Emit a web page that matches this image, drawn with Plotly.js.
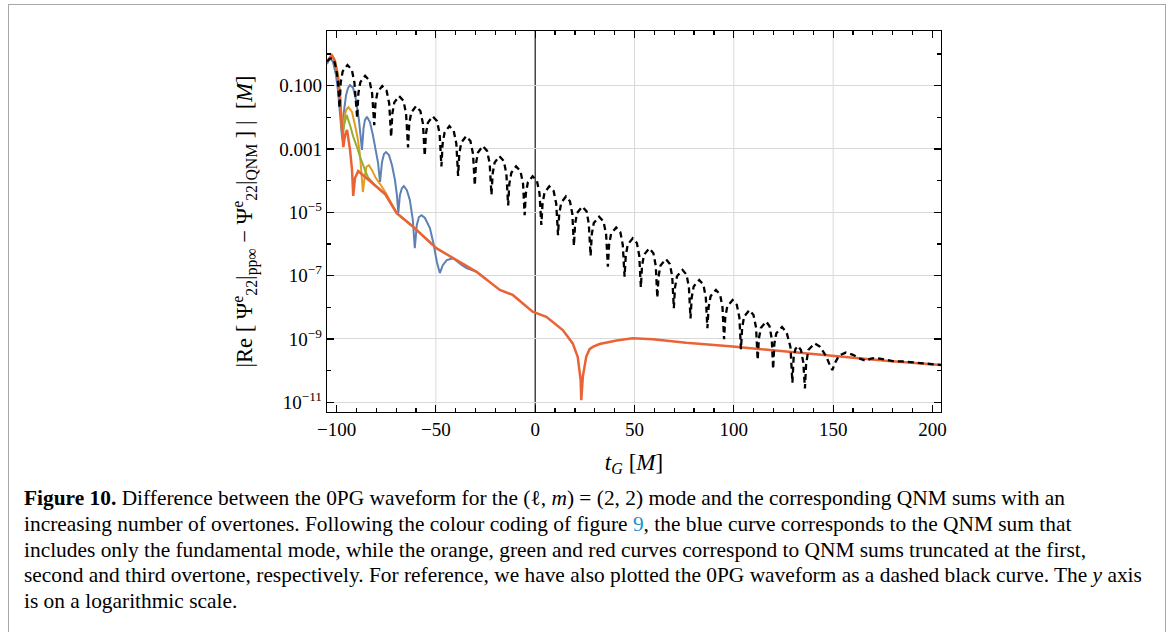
<!DOCTYPE html>
<html>
<head>
<meta charset="utf-8">
<script src="https://cdn.plot.ly/plotly-3.0.1.min.js"></script>
<style>
  html, body { margin: 0; padding: 0; background: #ffffff; }
  #fig { position: absolute; left: 0; top: 0; width: 1168px; height: 632px; }
  #box { position: absolute; left: 8px; top: 4px; width: 1156px; height: 640px;
         border: 1px solid #a8a8a8; pointer-events: none; }
</style>
</head>
<body>
<div id="fig"></div>
<div id="box"></div>
<script>
// Time axis t_G in units of M; amplitudes stored as log10 of |Re(...)| in units of M.

// 0PG waveform (dashed black)
const blackT = [
  -104.8,-103.6,-102.4,-101.2,-100.2,-99.3,-98.5,
  -97.9,-96.9,-94.5,-92.3,-91.0,-89.6,
  -89.0,-88.0,-85.6,-83.4,-82.1,-81.0,
  -80.4,-79.4,-77.0,-74.8,-73.5,-72.5,
  -71.9,-70.9,-68.5,-66.3,-65.0,-64.0,
  -63.4,-62.4,-60.0,-57.8,-56.5,-55.6,
  -55.0,-54.0,-51.6,-49.4,-48.1,-47.2,
  -46.6,-45.6,-43.2,-41.0,-39.7,-38.8,
  -38.2,-37.2,-34.8,-32.6,-31.3,-30.4,
  -29.8,-28.8,-26.4,-24.2,-22.9,-22.0,
  -21.4,-20.4,-18.0,-15.8,-14.5,-13.6,
  -13.0,-12.0,-9.6,-7.4,-6.1,-5.3,
  -4.7,-3.7,-1.3,0.9,2.2,3.1,
  3.7,4.7,7.1,9.3,10.6,11.5,
  12.1,13.1,15.5,17.5,18.7,19.5,
  20.1,21.1,23.7,25.9,27.0,27.9,
  28.5,29.5,32.2,34.4,35.7,36.6,
  37.2,38.2,40.8,42.9,44.1,45.0,
  45.6,46.6,49.1,51.2,52.4,53.2,
  53.8,54.8,57.4,59.5,60.7,61.5,
  62.1,63.1,65.8,67.8,69.0,69.8,
  70.4,71.4,74.2,76.2,77.4,78.2,
  78.8,79.8,82.6,84.7,85.9,86.7,
  87.3,88.3,91.0,93.1,94.3,95.1,
  95.7,96.7,99.4,101.5,102.8,103.6,
  104.2,105.2,107.8,109.9,111.2,112.0,
  112.6,113.6,116.3,118.0,119.1,119.8,
  120.4,121.4,124.3,126.6,128.5,129.5,
  130.1,131.0,132.3,133.8,135.0,135.8,
  136.4,137.5,140.7,143.5,146.5,148.5,149.6,
  151.0,153.0,156.4,160.0,163.5,166.4,169.0,171.5,175.0,180.0,185.0,190.0,197.0,204.3
];
const blackLog = [
  -0.24,-0.16,-0.13,-0.22,-0.45,-0.85,-1.71,
  -0.90,-0.55,-0.35,-0.50,-0.90,-2.03,
  -1.24,-0.89,-0.69,-0.84,-1.24,-2.25,
  -1.56,-1.21,-1.01,-1.16,-1.56,-2.62,
  -1.88,-1.53,-1.33,-1.48,-1.88,-2.95,
  -2.20,-1.85,-1.65,-1.80,-2.20,-3.22,
  -2.52,-2.17,-1.97,-2.12,-2.52,-3.55,
  -2.83,-2.48,-2.28,-2.43,-2.83,-3.85,
  -3.15,-2.80,-2.60,-2.75,-3.15,-4.15,
  -3.46,-3.11,-2.91,-3.06,-3.46,-4.45,
  -3.78,-3.43,-3.23,-3.38,-3.78,-4.78,
  -4.10,-3.75,-3.55,-3.70,-4.10,-5.09,
  -4.41,-4.06,-3.86,-4.01,-4.41,-5.40,
  -4.73,-4.38,-4.18,-4.33,-4.73,-5.72,
  -5.05,-4.70,-4.50,-4.65,-5.05,-6.06,
  -5.37,-5.02,-4.82,-4.97,-5.37,-6.38,
  -5.69,-5.34,-5.14,-5.29,-5.69,-6.72,
  -6.03,-5.68,-5.48,-5.63,-6.03,-7.03,
  -6.37,-6.02,-5.82,-5.97,-6.37,-7.37,
  -6.69,-6.34,-6.14,-6.29,-6.69,-7.70,
  -7.03,-6.68,-6.48,-6.63,-7.03,-8.03,
  -7.37,-7.02,-6.82,-6.97,-7.37,-8.35,
  -7.69,-7.34,-7.14,-7.29,-7.69,-8.66,
  -8.00,-7.65,-7.45,-7.60,-8.00,-9.01,
  -8.32,-7.97,-7.77,-7.92,-8.32,-9.32,
  -8.64,-8.29,-8.09,-8.24,-8.64,-9.66,
  -9.00,-8.65,-8.45,-8.60,-9.00,-9.95,
  -9.15,-8.82,-8.62,-8.80,-9.25,-10.38,
  -9.60,-9.32,-9.22,-9.35,-9.75,-10.56,
  -9.80,-9.35,-9.14,-9.25,-9.55,-9.85,-9.98,
  -9.75,-9.52,-9.43,-9.50,-9.62,-9.69,-9.62,-9.60,-9.64,-9.70,-9.71,-9.74,-9.78,-9.82
];

// QNM sum with the fundamental mode only (blue)
const blueT = [
  -104.8,-103.3,-101.8,-100.3,-99.2,-98.2,-97.2,-96.2,-95.2,-94.2,
  -93.2,-91.7,-90.2,-88.7,-87.7,-87.2,-86.4,-85.7,-84.7,-83.2,
  -81.7,-80.2,-79.1,-78.1,-77.1,-76.1,-75.1,-73.6,-72.1,-70.6,
  -69.6,-68.9,-68.1,-67.1,-66.1,-64.6,-63.1,-61.6,-60.6,-59.6,
  -58.5,-57.2,-55.5,-53.0,-51.0,-49.5,-48.0,-46.5,-44.5,-41.3,
  -39.0,-37.0,-34.6,-29.5,-24.0
];
const blueLog = [
  -0.32,-0.13,-0.25,-0.66,-1.20,-1.93,-2.66,-1.77,-1.30,-1.07,
  -0.98,-1.07,-1.45,-2.09,-2.62,-3.03,-2.34,-2.09,-1.98,-2.15,
  -2.56,-3.03,-3.44,-4.04,-3.41,-3.16,-3.10,-3.19,-3.51,-3.98,
  -4.46,-5.02,-4.46,-4.24,-4.17,-4.30,-4.61,-5.24,-6.13,-5.40,
  -5.15,-5.09,-5.18,-5.50,-6.04,-6.57,-6.92,-6.67,-6.51,-6.45,
  -6.57,-6.66,-6.76,-6.88,-7.15
];

// QNM sum truncated at the first overtone (orange)
const orangeT = [
  -104.8,-102.4,-100.8,-99.2,-98.2,-97.5,-97.0,-96.2,-95.2,-94.0,
  -92.2,-90.7,-89.2,-88.2,-86.7,-85.7,-85.0,-83.7,-82.2,-80.2,
  -78.1,-75.1,-71.6,-69.7,-61.6,-49.6
];
const orangeLog = [
  -0.25,-0.03,-0.19,-0.66,-1.29,-2.09,-2.72,-2.09,-1.77,-1.68,
  -1.83,-2.25,-2.72,-3.19,-4.36,-3.82,-3.57,-3.51,-3.66,-3.92,
  -4.10,-4.40,-4.78,-5.02,-5.45,-6.14
];

// QNM sum truncated at the second overtone (green)
const greenT = [
  -104.8,-102.4,-100.8,-99.2,-98.2,-97.4,-96.9,-96.2,-95.5,-94.9,
  -93.2,-91.6,-89.7,-88.2,-85.7,-84.2,-80.7,-78.0,-75.6,-69.7,
  -61.6
];
const greenLog = [
  -0.25,-0.04,-0.22,-0.72,-1.35,-2.05,-2.62,-2.25,-2.02,-1.93,
  -2.25,-2.61,-2.94,-3.24,-3.66,-3.89,-4.14,-4.28,-4.42,-5.03,
  -5.45
];

// QNM sum truncated at the third overtone (red)
const redT = [
  -104.8,-102.4,-100.8,-99.2,-98.2,-97.2,-96.6,-95.7,-94.7,-93.2,
  -92.2,-91.6,-90.7,-89.1,-86.2,-83.2,-79.6,-75.6,-69.7,-61.6,
  -49.6,-39.6,-29.5,-17.8,-11.3,-1.3,5.6,13.9,18.9,21.4,
  22.9,23.2,24.0,25.7,27.4,29.0,32.4,41.0,49.1,59.2,
  76.0,99.4,126.2,149.6,176.5,204.3
];
const redLog = [
  -0.25,-0.03,-0.25,-0.82,-1.45,-2.24,-2.94,-2.56,-2.40,-3.03,
  -3.66,-4.48,-3.92,-3.70,-3.85,-4.01,-4.20,-4.42,-5.03,-5.45,
  -6.14,-6.51,-6.88,-7.45,-7.61,-8.14,-8.30,-8.72,-9.14,-9.56,
  -10.30,-10.93,-10.19,-9.56,-9.32,-9.25,-9.16,-9.05,-8.98,-9.01,
  -9.12,-9.24,-9.40,-9.53,-9.69,-9.82
];

// Axis ticks
const xTicks = [-100, -50, 0, 50, 100, 150, 200];
const xMinorTicks = [-90,-80,-70,-60,-40,-30,-20,-10,10,20,30,40,60,70,80,90,110,120,130,140,160,170,180,190];
const xGridLines = [-50, 50, 100, 150];
const yTicks = [1e-11, 1e-9, 1e-7, 1e-5, 1e-3, 1e-1];
const yTickText = ['10<sup>\u221211</sup>', '10<sup>\u22129</sup>', '10<sup>\u22127</sup>', '10<sup>\u22125</sup>', '0.001', '0.100'];
const yMinorTicks = [1e-10, 1e-8, 1e-6, 1e-4, 1e-2, 1];

// Caption lines
const captionLines = [
  '<b>Figure 10.</b> Difference between the 0PG waveform for the (\u2113, <i>m</i>) = (2, 2) mode and the corresponding QNM sums with an',
  'increasing number of overtones. Following the colour coding of figure <span style="fill:#1f8fce">9</span>, the blue curve corresponds to the QNM sum that',
  'includes only the fundamental mode, while the orange, green and red curves correspond to QNM sums truncated at the first,',
  'second and third overtone, respectively. For reference, we have also plotted the 0PG waveform as a dashed black curve. The <i>y</i> axis',
  'is on a logarithmic scale.'
];

const SERIF = '"Liberation Serif", "Times New Roman", Times, serif';
const pow10 = arr => arr.map(v => Math.pow(10, v));

function curve(t, lg, color, width, dash) {
  return {
    type: 'scatter', mode: 'lines', x: t, y: pow10(lg),
    line: { color: color, width: width, dash: dash || 'solid' },
    hoverinfo: 'skip'
  };
}

const traces = [
  curve(blueT, blueLog, '#5E81B5', 2),
  curve(orangeT, orangeLog, '#E19C24', 2),
  curve(greenT, greenLog, '#8FB032', 2),
  curve(redT, redLog, '#EB6235', 2.5),
  curve(blackT, blackLog, '#000000', 2.3, '6px,4px')
];

// plot-area geometry in pixels
const W = 1168, H = 632;
const M = { l: 327, r: 227, t: 31, b: 220 };
const plotH = H - M.t - M.b;
const plotW = W - M.l - M.r;
const pyToPaper = py => (H - M.b - py) / plotH;
const pxToPaper = px => (px - M.l) / plotW;

const shapes = xGridLines.map(v => ({
  type: 'line', xref: 'x', yref: 'paper', x0: v, x1: v, y0: 0, y1: 1,
  line: { color: '#d9d9d9', width: 1 }, layer: 'below'
}));
shapes.push({
  type: 'line', xref: 'x', yref: 'paper', x0: 0, x1: 0, y0: 0, y1: 1,
  line: { color: '#000000', width: 1.1 }, layer: 'below'
});

const annotations = captionLines.map((txt, i) => ({
  xref: 'paper', yref: 'paper',
  x: pxToPaper(22), y: pyToPaper(498 + 25.8 * i),
  xanchor: 'left', yanchor: 'middle', align: 'left',
  showarrow: false, text: txt,
  font: { family: SERIF, size: 21.4, color: '#000000' }
}));

const axisCommon = {
  ticks: 'inside', ticklen: 7, tickwidth: 1.2, tickcolor: '#000000',
  showline: true, linecolor: '#000000', linewidth: 1.2, mirror: 'ticks',
  zeroline: false,
  tickfont: { family: SERIF, size: 19, color: '#000000' }
};

const layout = {
  width: W, height: H, margin: M,
  paper_bgcolor: '#ffffff', plot_bgcolor: '#ffffff',
  showlegend: false,
  xaxis: Object.assign({}, axisCommon, {
    range: [-104.8, 204.3],
    tickmode: 'array', tickvals: xTicks,
    showgrid: false,
    minor: { tickmode: 'array', tickvals: xMinorTicks, ticks: 'inside', ticklen: 4, tickwidth: 1.2, tickcolor: '#000000', showgrid: false },
    title: { text: '<i>t<sub>G</sub></i> [<i>M</i>]', font: { family: SERIF, size: 23, color: '#000000' }, standoff: 14 }
  }),
  yaxis: Object.assign({}, axisCommon, {
    type: 'log', range: [-11.306, 0.725],
    tickmode: 'array', tickvals: yTicks, ticktext: yTickText,
    showgrid: true, gridcolor: '#d9d9d9', gridwidth: 1,
    minor: { tickmode: 'array', tickvals: yMinorTicks, ticks: 'inside', ticklen: 4, tickwidth: 1.2, tickcolor: '#000000', showgrid: false },
    title: {
      text: '|Re [ \u03A8<sup>e</sup><sub>22</sub>|<sub>pp\u221E</sub> \u2212 \u03A8<sup>e</sup><sub>22</sub>|<sub>QNM</sub> ] |  [<i>M</i>]',
      font: { family: SERIF, size: 22.5, color: '#000000' }, standoff: 20
    }
  }),
  shapes: shapes,
  annotations: annotations
};

Plotly.newPlot('fig', traces, layout, { staticPlot: true, displayModeBar: false });
</script>
</body>
</html>
